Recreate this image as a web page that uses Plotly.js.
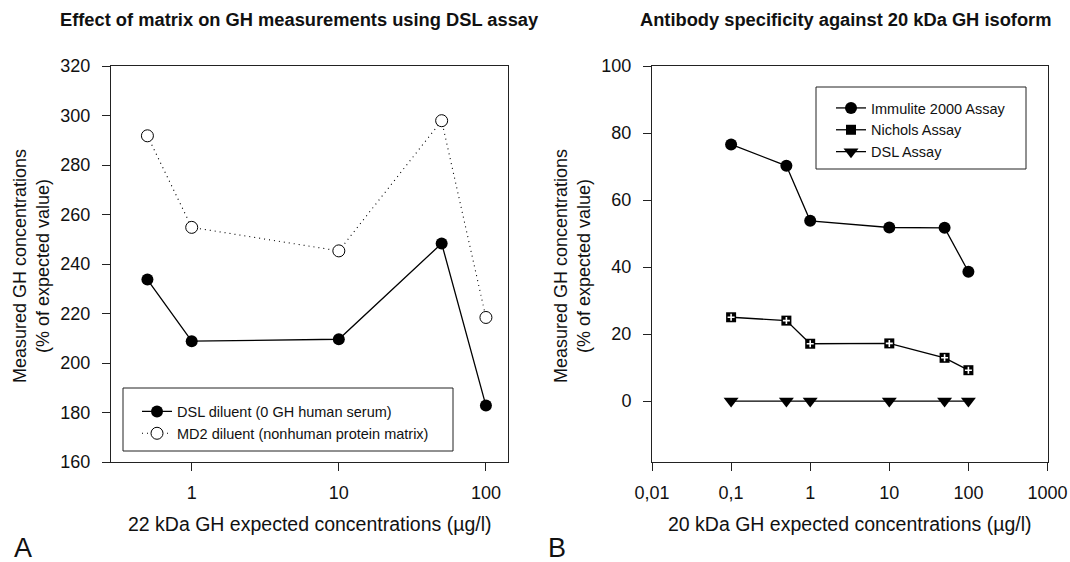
<!DOCTYPE html>
<html>
<head>
<meta charset="utf-8">
<script src="https://cdn.plot.ly/plotly-3.0.1.min.js"></script>
<style>html,body{margin:0;padding:0;background:#fff;}#chart{width:1070px;height:562px;}</style>
</head>
<body>
<div id="chart"></div>
<script>
// ---- Data ----
const leftX = [0.5, 1, 10, 50, 100];
const dslDiluent = [233.7, 208.8, 209.6, 248.3, 182.8];
const md2Diluent = [291.8, 254.8, 245.3, 297.9, 218.4];

const rightX = [0.1, 0.5, 1, 10, 50, 100];
const immulite = [76.6, 70.2, 53.8, 51.8, 51.7, 38.6];
const nichols = [25.0, 24.0, 17.1, 17.2, 12.9, 9.2];
const dslAssay = [0, 0, 0, 0, 0, 0];

const leftXTicks = [1, 10, 100];
const leftXTickText = ['1', '10', '100'];
const rightXTicks = [0.01, 0.1, 1, 10, 100, 1000];
const rightXTickText = ['0,01', '0,1', '1', '10', '100', '1000'];
const leftYTicks = [160, 180, 200, 220, 240, 260, 280, 300, 320];
const rightYTicks = [0, 20, 40, 60, 80, 100];

// ---- Layout helpers ----
const W = 1070, H = 562;
const FONT = 'Liberation Sans, Arial, Helvetica, sans-serif';
const px = x => x / W;
const py = y => 1 - y / H;
const AX = '#222';

const traces = [
  {x: leftX, y: dslDiluent, xaxis: 'x', yaxis: 'y', name: 'DSL diluent (0 GH human serum)',
   mode: 'lines+markers', line: {color: '#000', width: 1.3},
   marker: {symbol: 'circle', size: 12, color: '#000'}, legend: 'legend'},
  {x: leftX, y: md2Diluent, xaxis: 'x', yaxis: 'y', name: 'MD2 diluent (nonhuman protein matrix)',
   mode: 'lines+markers', line: {color: '#000', width: 1.1, dash: '1px,4px'},
   marker: {symbol: 'circle', size: 12, color: '#fff', line: {color: '#000', width: 1}}, legend: 'legend'},
  {x: rightX, y: immulite, xaxis: 'x2', yaxis: 'y2', name: 'Immulite 2000 Assay',
   mode: 'lines+markers', line: {color: '#000', width: 1.3},
   marker: {symbol: 'circle', size: 12, color: '#000'}, legend: 'legend2'},
  {x: rightX, y: nichols, xaxis: 'x2', yaxis: 'y2', name: 'Nichols Assay',
   mode: 'lines+markers', line: {color: '#000', width: 1.3},
   marker: {symbol: 'square', size: 10, color: '#000'}, legend: 'legend2'},
  {x: rightX, y: nichols, xaxis: 'x2', yaxis: 'y2', showlegend: false, hoverinfo: 'skip',
   mode: 'markers',
   marker: {symbol: 'cross-thin', size: 5, color: '#fff', line: {color: '#fff', width: 1.6}}},
  {x: rightX, y: dslAssay, xaxis: 'x2', yaxis: 'y2', name: 'DSL Assay',
   mode: 'lines+markers', line: {color: '#000', width: 1.3},
   marker: {symbol: 'triangle-down', size: 13, color: '#000'}, legend: 'legend2'}
];

const axisCommon = {
  showline: true, linecolor: AX, linewidth: 1, mirror: true,
  ticks: 'outside', ticklen: 8, tickwidth: 1, tickcolor: AX,
  showgrid: false, zeroline: false,
  tickfont: {family: FONT, size: 18, color: '#111'}
};

const layout = {
  width: W, height: H,
  margin: {l: 0, r: 0, t: 0, b: 0},
  paper_bgcolor: '#fff', plot_bgcolor: '#fff',
  font: {family: FONT, color: '#111'},
  showlegend: true,
  xaxis: Object.assign({}, axisCommon, {
    type: 'log', domain: [px(111), px(508)], range: [-0.5486, 2.150],
    tickmode: 'array', tickvals: leftXTicks, ticktext: leftXTickText,
    ticklabelstandoff: 6, anchor: 'y'
  }),
  yaxis: Object.assign({}, axisCommon, {
    domain: [1 - 462 / H, 1 - 66 / H], range: [160, 320],
    tickmode: 'array', tickvals: leftYTicks, ticklabelstandoff: 8, anchor: 'x'
  }),
  xaxis2: Object.assign({}, axisCommon, {
    type: 'log', domain: [px(652), px(1047.5)], range: [-2, 3],
    tickmode: 'array', tickvals: rightXTicks, ticktext: rightXTickText,
    ticklabelstandoff: 6, anchor: 'y2'
  }),
  yaxis2: Object.assign({}, axisCommon, {
    domain: [1 - 462 / H, 1 - 66 / H], range: [-18.2, 100],
    tickmode: 'array', tickvals: rightYTicks, ticklabelstandoff: 8, anchor: 'x2'
  }),
  legend: {
    x: px(137), y: py(395.5), xanchor: 'left', yanchor: 'top',
    borderwidth: 0, bgcolor: 'rgba(0,0,0,0)',
    font: {family: FONT, size: 14.5, color: '#111'}
  },
  legend2: {
    x: px(831), y: py(92), xanchor: 'left', yanchor: 'top',
    borderwidth: 0, bgcolor: 'rgba(0,0,0,0)',
    font: {family: FONT, size: 14.5, color: '#111'}
  },
  shapes: [
    {type: 'rect', xref: 'paper', yref: 'paper', x0: px(123), x1: px(453), y0: py(388), y1: py(451),
     line: {color: AX, width: 1}, fillcolor: '#fff', layer: 'below'},
    {type: 'rect', xref: 'paper', yref: 'paper', x0: px(816), x1: px(1026), y0: py(87), y1: py(169),
     line: {color: AX, width: 1}, fillcolor: '#fff', layer: 'below'}
  ],
  annotations: [
    {text: '<b>Effect of matrix on GH measurements using DSL assay</b>', x: px(299), y: py(20),
     xref: 'paper', yref: 'paper', showarrow: false, xanchor: 'center', yanchor: 'middle',
     font: {family: FONT, size: 18.3, color: '#111'}},
    {text: '<b>Antibody specificity against 20 kDa GH isoform</b>', x: px(845), y: py(20),
     xref: 'paper', yref: 'paper', showarrow: false, xanchor: 'center', yanchor: 'middle',
     font: {family: FONT, size: 18.3, color: '#111'}},
    {text: 'Measured GH concentrations<br>(% of expected value)', x: px(32), y: py(266),
     xref: 'paper', yref: 'paper', showarrow: false, textangle: -90, xanchor: 'center', yanchor: 'middle',
     font: {family: FONT, size: 18, color: '#111'}},
    {text: 'Measured GH concentrations<br>(% of expected value)', x: px(573), y: py(266),
     xref: 'paper', yref: 'paper', showarrow: false, textangle: -90, xanchor: 'center', yanchor: 'middle',
     font: {family: FONT, size: 18, color: '#111'}},
    {text: '22 kDa GH expected concentrations (µg/l)', x: px(310), y: py(524),
     xref: 'paper', yref: 'paper', showarrow: false, xanchor: 'center', yanchor: 'middle',
     font: {family: FONT, size: 19.5, color: '#111'}},
    {text: '20 kDa GH expected concentrations (µg/l)', x: px(850), y: py(524),
     xref: 'paper', yref: 'paper', showarrow: false, xanchor: 'center', yanchor: 'middle',
     font: {family: FONT, size: 19.5, color: '#111'}},
    {text: 'A', x: px(23), y: py(548), xref: 'paper', yref: 'paper', showarrow: false,
     xanchor: 'center', yanchor: 'middle', font: {family: FONT, size: 27, color: '#111'}},
    {text: 'B', x: px(557), y: py(548), xref: 'paper', yref: 'paper', showarrow: false,
     xanchor: 'center', yanchor: 'middle', font: {family: FONT, size: 27, color: '#111'}}
  ]
};

Plotly.newPlot('chart', traces, layout, {staticPlot: true, displayModeBar: false});
</script>
</body>
</html>
